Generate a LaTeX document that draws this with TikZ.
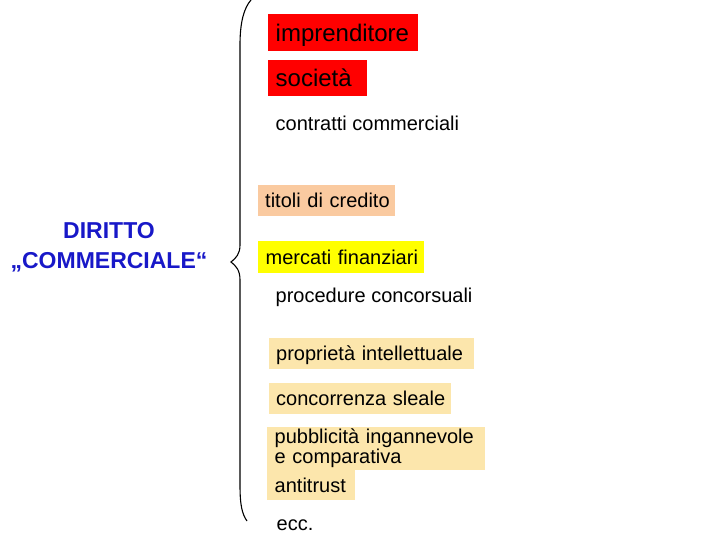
\documentclass[tikz,border=0pt]{standalone}
\usepackage{fontspec}
\setmainfont{Liberation Sans}

\definecolor{rosso}{RGB}{255,0,0}
\definecolor{pesca}{RGB}{250,202,160}
\definecolor{giallo}{RGB}{255,255,0}
\definecolor{crema}{RGB}{252,230,172}
\definecolor{blu}{RGB}{24,24,200}

\begin{document}
\begin{tikzpicture}[x=1pt,y=-1pt,
    voce/.style={anchor=west,inner xsep=7.5pt,inner ysep=0pt,align=left,
        font=\fontsize{20}{24}\selectfont},
    grande/.style={voce,font=\fontsize{24}{28}\selectfont,fill=rosso},
    titolo/.style={align=center,text=blu,font=\bfseries\fontsize{23}{30}\selectfont}]
    \useasboundingbox (0,0) rectangle (720,540);

    \coordinate (top) at (251,0);
    \coordinate (tip) at (231,262);
    \coordinate (bottom) at (247,521);

    \node[titolo] (diritto) at (109,247) {DIRITTO\\„COMMERCIALE“};

    \node[grande,text width=135pt,minimum height=37pt,text depth=0pt]
        (impr) at (268,32.5) {\mbox{imprenditore}};
    \node[grande,text width=84pt,minimum height=36pt] (soc) at (268,78) {\mbox{società}};
    \node[voce] (contr) at (268,123) {contratti commerciali};
    \node[voce,fill=pesca,inner xsep=7pt,text width=123pt,minimum height=31pt]
        (titoli) at (258,200.5) {\mbox{titoli di credito}};
    \node[voce,fill=giallo,text width=151pt,minimum height=32pt]
        (mercati) at (258,257) {\mbox{mercati finanziari}};
    \node[voce] (proc) at (268,297) {procedure concorsuali};
    \node[voce,fill=crema,inner xsep=7pt,text width=191pt,minimum height=31pt,text depth=0pt]
        (propr) at (269,353.5) {\mbox{proprietà intellettuale}};
    \node[voce,fill=crema,inner xsep=7pt,text width=168pt,minimum height=31pt]
        (conc) at (269,398.5) {\mbox{concorrenza sleale}};
    \node[voce,fill=crema,text width=203pt,minimum height=43pt,
        font=\fontsize{20}{18.5}\selectfont]
        (pubbl) at (267,448.5) {\mbox{pubblicità ingannevole}\\\mbox{e comparativa}};
    \node[voce,fill=crema,text width=73pt,minimum height=30pt]
        (anti) at (267,485) {\mbox{antitrust}};
    \node[voce] (ecc) at (269,525) {ecc.};

    % graffa
    \draw[line width=1.1pt] (top)
        .. controls (244,8) and (240,22) .. (240,45)
        -- (240,245)
        .. controls (240,254) and (236,258) .. (tip)
        .. controls (236,266) and (240,270) .. (240,280)
        -- (240,485)
        .. controls (240,505) and (242,514) .. (bottom);
\end{tikzpicture}
\end{document}
